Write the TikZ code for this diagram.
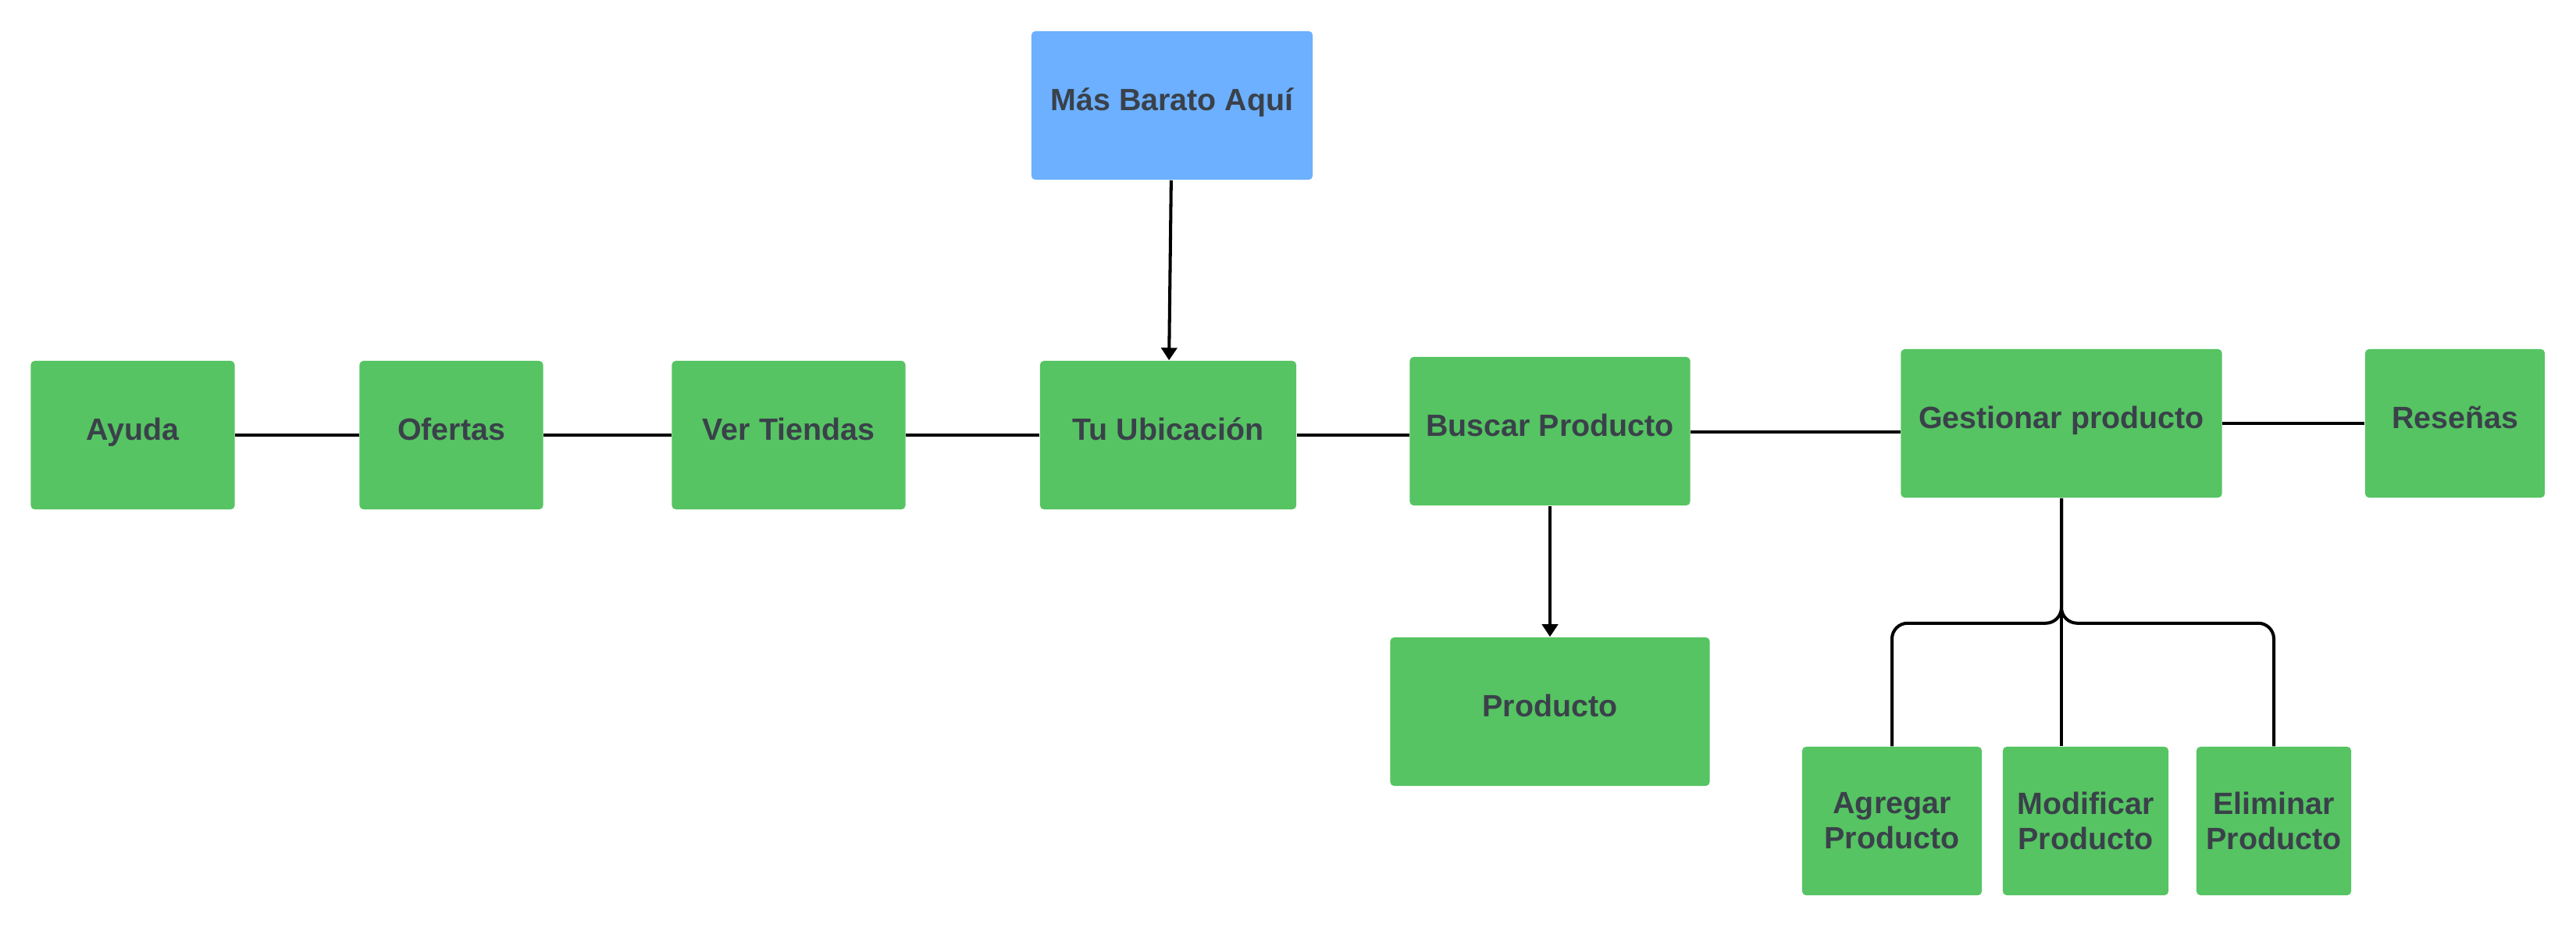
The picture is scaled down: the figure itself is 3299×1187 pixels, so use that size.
\documentclass[tikz,border=0pt]{standalone}
\usepackage{fontspec}
\setmainfont{Liberation Sans}
\usetikzlibrary{arrows.meta}
\definecolor{cajaverde}{HTML}{56C462}
\definecolor{cajaazul}{HTML}{6CB0FF}
\definecolor{textogris}{HTML}{3A414A}

\tikzset{
  caja/.style={fill=cajaverde, rounded corners=0.05cm, minimum height=1.9cm, inner sep=0pt,
    text=textogris, align=center, font=\bfseries\fontsize{11.2}{12.8}\selectfont},
  unalinea/.style={caja, text height=0.3cm, text depth=0.18cm},
  linea/.style={line width=1.15pt},
  flecha/.style={linea, -{Triangle[width=0.2cm,length=0.16cm]}}
}

\begin{document}
\begin{tikzpicture}[x=0.01cm, y=-0.01cm]
  \useasboundingbox (0,0) rectangle (3299,1187);

  % Fila principal
  \node[unalinea, minimum width=2.61cm] (ayuda) at (170,557) {Ayuda};
  \node[unalinea, minimum width=2.35cm] (ofertas) at (578,557) {Ofertas};
  \node[unalinea, minimum width=2.99cm] (tiendas) at (1010,557) {Ver Tiendas};
  \node[unalinea, minimum width=3.28cm] (ubicacion) at (1496,557) {Tu Ubicación};
  \node[unalinea, minimum width=3.59cm] (buscar) at (1985,552) {Buscar Producto};
  \node[unalinea, minimum width=4.11cm] (gestionar) at (2640,542) {Gestionar producto};
  \node[unalinea, minimum width=2.30cm] (resenas) at (3144,542) {Reseñas};

  % Arriba y abajo
  \node[unalinea, fill=cajaazul, minimum width=3.60cm] (barato) at (1501,135) {Más Barato Aquí};
  \node[unalinea, minimum width=4.09cm] (producto) at (1985,911) {Producto};
  \node[caja, minimum width=2.30cm] (agregar) at (2423,1051) {Agregar\\Producto};
  \node[caja, minimum width=2.12cm] (modificar) at (2671,1051) {Modificar\\Producto};
  \node[caja, minimum width=1.98cm] (eliminar) at (2912,1051) {Eliminar\\Producto};

  \draw[linea] (ayuda) -- (ofertas);
  \draw[linea] (ofertas) -- (tiendas);
  \draw[linea] (tiendas) -- (ubicacion);
  \draw[linea] (ubicacion.east) -- (ubicacion.east -| buscar.west);
  \draw[linea] ([yshift=-0.01cm]buscar.east) -- ([yshift=-0.01cm]buscar.east -| gestionar.west);
  \draw[linea] (gestionar) -- (resenas);

  \draw[flecha] (barato) -- (ubicacion);
  \draw[flecha] (buscar) -- (producto);

  % Ramas de gestionar
  \draw[linea, rounded corners=0.2cm] (gestionar.south) -- ++(0,160) -| (agregar.north);
  \draw[linea, rounded corners=0.2cm] (gestionar.south) -- ++(0,160) -| (eliminar.north);
  \draw[linea] (gestionar.south) -- (gestionar.south |- modificar.north);
\end{tikzpicture}
\end{document}
